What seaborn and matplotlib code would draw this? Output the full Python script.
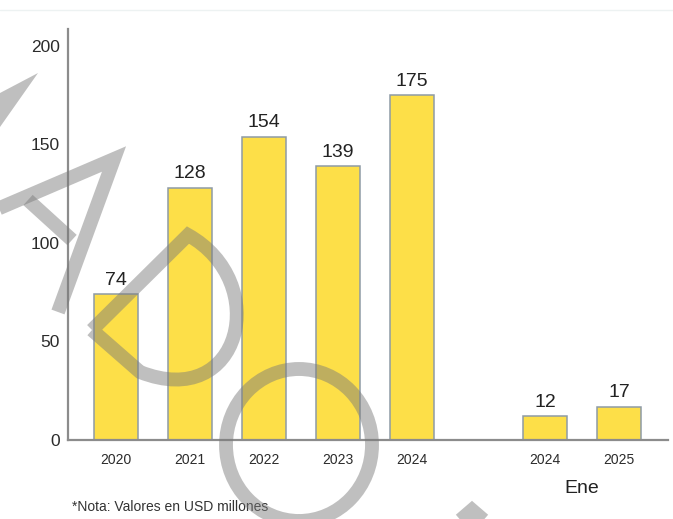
import matplotlib
matplotlib.use("Agg")
import matplotlib.pyplot as plt
import matplotlib.transforms as mtransforms
from matplotlib.lines import Line2D
from matplotlib.patches import Ellipse, PathPatch, Polygon
from matplotlib.path import Path
import numpy as np
import pandas as pd
import seaborn as sns

# data
years = ["2020", "2021", "2022", "2023", "2024", "2024", "2025"]
period = ["Anual", "Anual", "Anual", "Anual", "Anual", "Ene", "Ene"]
values = [74, 128, 154, 139, 175, 12, 17]

df = pd.DataFrame({"year": years, "period": period, "value": values})
# the January bars sit a bit apart from the yearly ones
df["pos"] = np.arange(len(df)) + np.where(df["period"] == "Ene", 0.8, 0.0)

sns.set_style("white")
plt.rcParams["font.family"] = ["Liberation Sans", "DejaVu Sans"]

W, H = 673, 519
fig = plt.figure(figsize=(W / 100, H / 100), dpi=100)
ax = fig.add_axes([68 / W, 79 / H, 600 / W, 411 / H])

sns.barplot(
    data=df, x="pos", y="value", native_scale=True, width=0.6,
    color="#FDDF48", saturation=1, edgecolor="#8E9BA6", linewidth=1.1,
    errorbar=None, ax=ax,
)

ax.bar_label(ax.containers[0], labels=[str(v) for v in values],
             padding=4, fontsize=14, color="#222222")

ax.set_xlim(-0.65, 7.46)
ax.set_ylim(0, 208.6)
ax.set_yticks([0, 50, 100, 150, 200])
ax.set_xticks(df["pos"])
ax.set_xticklabels(years)
ax.set_xlabel("")
ax.set_ylabel("")

sns.despine(ax=ax)
for s in ["left", "bottom"]:
    ax.spines[s].set_color("#8C8C8C")
    ax.spines[s].set_linewidth(1.6)
ax.tick_params(axis="y", length=4, width=1, color="#8C8C8C", pad=2,
               labelsize=12.5, labelcolor="#2B2B2B")
ax.tick_params(axis="x", length=0, pad=9, labelsize=10, labelcolor="#2B2B2B")

ene_x = df.loc[df["period"] == "Ene", "pos"].mean()
trans = mtransforms.blended_transform_factory(ax.transData, ax.transAxes)
ax.text(ene_x, -0.118, "Ene", transform=trans, ha="center", va="center",
        fontsize=14, color="#222222")

fig.text(72 / W, 1 - 507 / H, "*Nota: Valores en USD millones",
         ha="left", va="center", fontsize=10, color="#333333")

# faint rule at the top
fig.add_artist(Line2D([0, 1], [1 - 10 / H] * 2, color="#EDF2F2", lw=1))

# watermark strokes (pixel coords, origin top-left)
WM_COLOR, WM_ALPHA, WM_LW = "#7A7A7A", 0.48, 10


def px(p):
    return (p[0] / W, 1 - p[1] / H)


def stroke(pts):
    xs, ys = zip(*[px(p) for p in pts])
    fig.add_artist(Line2D(xs, ys, color=WM_COLOR, alpha=WM_ALPHA, lw=WM_LW,
                          solid_joinstyle="miter", solid_capstyle="butt",
                          transform=fig.transFigure, zorder=10))


fig.add_artist(Polygon([px(p) for p in [(38, 73), (0, 93), (0, 127)]],
                       closed=True, transform=fig.transFigure, fc=WM_COLOR,
                       ec="none", alpha=WM_ALPHA, zorder=10))
stroke([(-5, 210), (114, 159), (58, 312)])
stroke([(28, 200), (72, 240)])
stroke([(443, 535), (472, 510), (501, 535)])

d_pts = [(92, 330), (188, 235), (272, 282), (242, 412), (140, 372), (92, 330)]
d_codes = [Path.MOVETO, Path.LINETO, Path.CURVE4, Path.CURVE4, Path.CURVE4,
           Path.LINETO]
fig.add_artist(PathPatch(Path([px(p) for p in d_pts], d_codes),
                         transform=fig.transFigure, fill=False, ec=WM_COLOR,
                         alpha=WM_ALPHA, lw=WM_LW, joinstyle="miter",
                         zorder=10))
fig.add_artist(Ellipse(px((299, 445)), 146 / W, 152 / H,
                       transform=fig.transFigure, fill=False,
                       ec=WM_COLOR, alpha=WM_ALPHA, lw=WM_LW, zorder=10))

fig.savefig("out.png", dpi=100)
plt.close(fig)
